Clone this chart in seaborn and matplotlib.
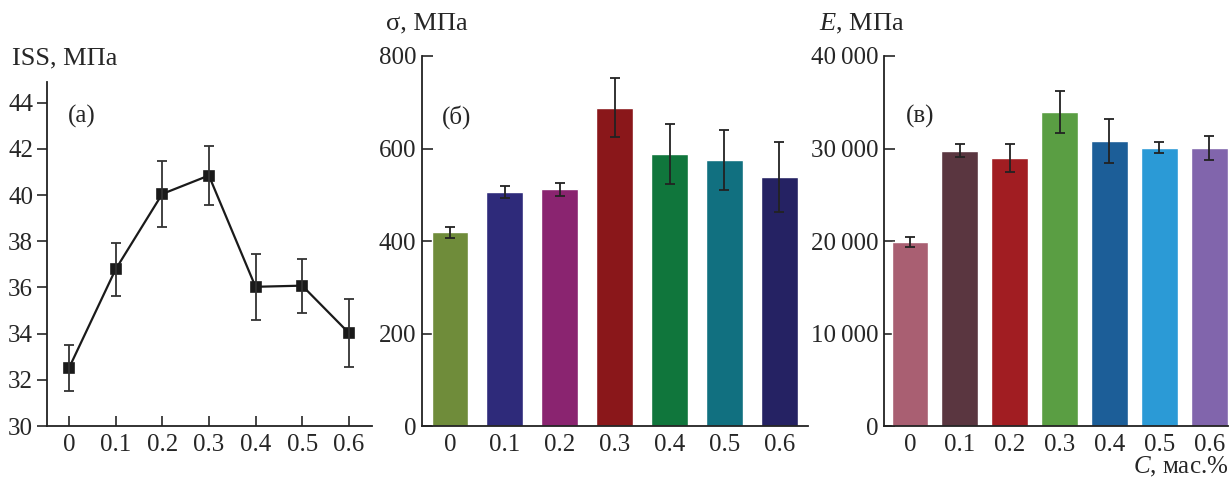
import numpy as np
import matplotlib
matplotlib.use("Agg")
import matplotlib.pyplot as plt
import matplotlib.ticker as mticker
import seaborn as sns

# concentration, mass %
conc = ["0", "0.1", "0.2", "0.3", "0.4", "0.5", "0.6"]

# (a) interlaminar shear strength, MPa
iss = [32.5, 36.78, 40.05, 40.85, 36.03, 36.08, 34.03]
iss_err = [1.0, 1.14, 1.45, 1.28, 1.42, 1.17, 1.47]

# (b) strength, MPa
sigma = [419, 506, 512, 688, 588, 575, 538]
sigma_err = [12, 12, 14, 64, 64, 64, 76]
colors_b = ["#6f8c3a", "#2e2a7a", "#8a2470", "#8a171a", "#10763c", "#117080", "#252263"]

# (c) modulus, MPa
modulus = [19880, 29750, 28980, 33950, 30800, 30080, 30060]
modulus_err = [580, 720, 1520, 2270, 2340, 600, 1300]
colors_c = ["#a95f72", "#5a3640", "#a11d22", "#5a9e43", "#1c5e98", "#2b9ad6", "#8165ac"]

sns.set_style("ticks")
plt.rcParams["font.family"] = ["Liberation Serif", "DejaVu Serif"]
plt.rcParams["mathtext.fontset"] = "custom"
plt.rcParams["mathtext.rm"] = "Liberation Serif"
plt.rcParams["mathtext.it"] = "Liberation Serif:italic"

FS = 18
fig = plt.figure(figsize=(12.32, 4.79), dpi=100)
ax_a = fig.add_axes([0.0381, 0.1106, 0.2640, 0.7182])
ax_b = fig.add_axes([0.3423, 0.1106, 0.3135, 0.7725])
ax_c = fig.add_axes([0.7178, 0.1106, 0.2787, 0.7725])

pos = np.arange(len(conc))

# ---- (a)
sns.pointplot(x=conc, y=iss, order=conc, color="#1a1a1a", markers="s",
              markersize=7, linewidth=1.6, errorbar=None, ax=ax_a)
ax_a.errorbar(pos, iss, yerr=iss_err, fmt="none", ecolor="#333333",
              elinewidth=1.3, capsize=3.6, capthick=1.3)
ax_a.set_ylim(30, 44.9)
ax_a.set_yticks(np.arange(30, 45, 2))
ax_a.set_xlim(-0.47, 6.5)
ax_a.tick_params(axis="y", direction="out", length=7, width=1.2, labelsize=FS, pad=3)
ax_a.tick_params(axis="x", direction="in", length=7, width=1.2, labelsize=FS, pad=6)

# ---- (b)
sns.barplot(x=conc, y=sigma, hue=conc, order=conc, hue_order=conc,
            palette=colors_b, width=0.67, legend=False, saturation=1,
            ax=ax_b)
ax_b.errorbar(pos, sigma, yerr=sigma_err, fmt="none", ecolor="#222222",
              elinewidth=1.3, capsize=3.6, capthick=1.3)
ax_b.set_ylim(0, 800)
ax_b.set_yticks([0, 200, 400, 600, 800])
ax_b.set_xlim(-0.515, 6.52)

# ---- (c)
sns.barplot(x=conc, y=modulus, hue=conc, order=conc, hue_order=conc,
            palette=colors_c, width=0.74, legend=False, saturation=1,
            ax=ax_c)
ax_c.errorbar(pos, modulus, yerr=modulus_err, fmt="none", ecolor="#222222",
              elinewidth=1.3, capsize=3.6, capthick=1.3)
ax_c.set_ylim(0, 40000)
ax_c.set_yticks([0, 10000, 20000, 30000, 40000])
ax_c.yaxis.set_major_formatter(
    mticker.FuncFormatter(lambda v, p: f"{int(v):,}".replace(",", "\u2009")))
ax_c.set_xlim(-0.515, 6.37)

for ax in (ax_b, ax_c):
    ax.tick_params(axis="both", direction="in", length=8, width=1.2,
                   labelsize=FS, pad=6)
    ax.tick_params(axis="y", pad=4)

for ax in (ax_a, ax_b, ax_c):
    ax.set_xlabel("")
    ax.set_ylabel("")
    sns.despine(ax=ax)
    for s in ("left", "bottom"):
        ax.spines[s].set_linewidth(1.3)
        ax.spines[s].set_color("#222222")
    ax.set_facecolor("none")

# axis titles
fig.text(0.0097, 0.877, "ISS, МПа", fontsize=FS + 1, va="center", ha="left")
fig.text(0.313, 0.95, "σ, МПа", fontsize=FS + 1, va="center", ha="left")
fig.text(0.665, 0.95, r"$E$, МПа", fontsize=FS + 1, va="center", ha="left")
fig.text(0.9968, 0.012, r"$C$, мас.%", fontsize=FS, va="baseline", ha="right")

# panel letters
fig.text(0.0552, 0.756, "(a)", fontsize=FS, va="center", ha="left")
fig.text(0.3588, 0.756, "(б)", fontsize=FS, va="center", ha="left")
fig.text(0.7354, 0.756, "(в)", fontsize=FS, va="center", ha="left")

fig.savefig("out.png", dpi=100)
